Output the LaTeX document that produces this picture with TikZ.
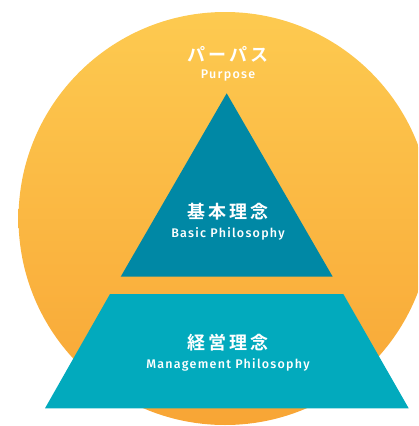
\documentclass[tikz,border=0pt]{standalone}
\usepackage{fontspec}
\newfontfamily\jp{Noto Sans CJK JP}[BoldFont={Noto Sans CJK JP Bold},LetterSpace=18]
\newfontfamily\latn{Fira Sans Medium}[LetterSpace=10]
\definecolor{circtop}{HTML}{FDCA50}
\definecolor{circbot}{HTML}{F8A535}
\definecolor{tricol}{HTML}{0088A5}
\definecolor{trapcol}{HTML}{02AABD}
\tikzset{
  jptext/.style={text=white,font=\jp\bfseries\fontsize{18}{20}\selectfont,inner sep=0pt},
  entext/.style={text=white,font=\latn\fontsize{12.5}{14}\selectfont,inner sep=0pt},
}
\begin{document}
\begin{tikzpicture}[x=1pt,y=-1pt]
\useasboundingbox (0,0) rectangle (418,426);
\begin{scope}
\clip (0,0) rectangle (418,426);
\shade[top color=circtop,bottom color=circbot] (225,218.5) circle (206.5);
\end{scope}
\fill[tricol] (226.7,93.3) -- (332.7,276.7) -- (120.7,276.7) -- cycle;
\fill[trapcol] (110,294) -- (343.3,294) -- (408.7,408.3) -- (45,408.3) -- cycle;
\node[jptext] (purj) at (228,54) {パーパス};
\node[entext] (pure) at (228,76) {Purpose};
\node[jptext] (basj) at (228,212) {基本理念};
\node[entext] (base) at (228,234) {Basic Philosophy};
\node[jptext] (mgtj) at (228,343) {経営理念};
\node[entext] (mgte) at (228,365) {Management Philosophy};
\end{tikzpicture}
\end{document}
